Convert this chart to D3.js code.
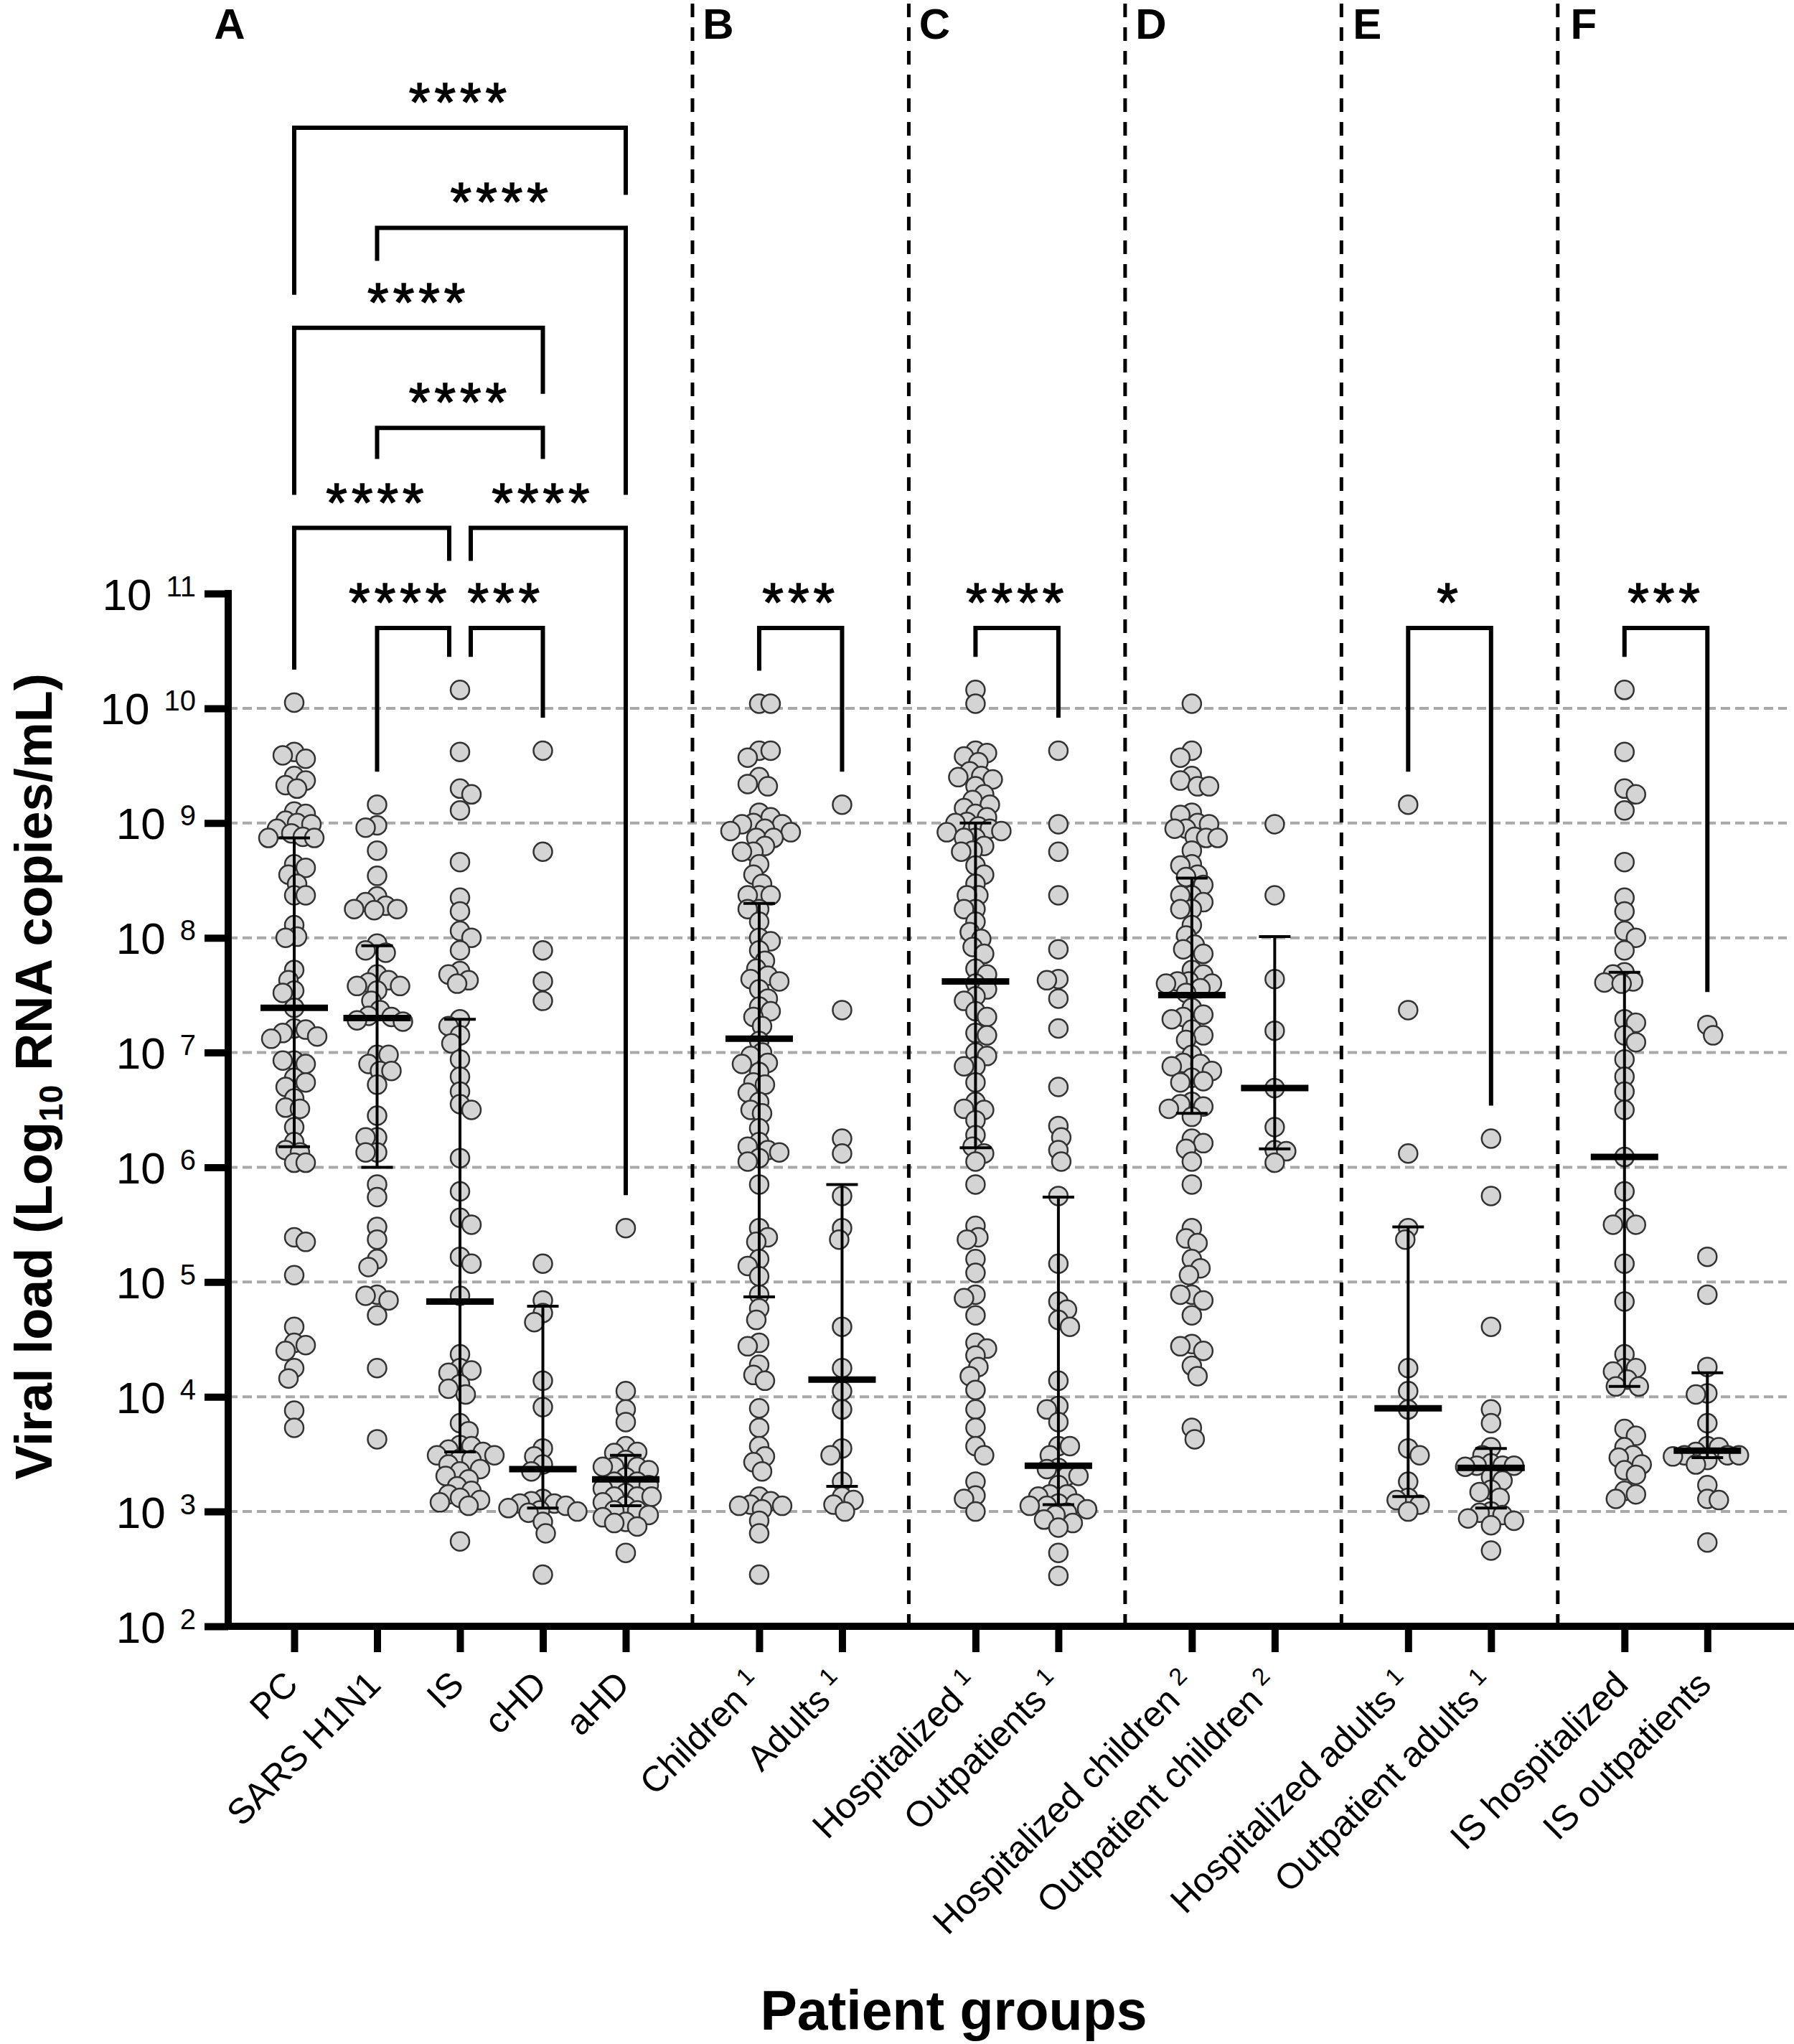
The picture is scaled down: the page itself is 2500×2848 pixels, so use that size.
<!DOCTYPE html>
<html lang="en">
<head>
<meta charset="UTF-8">
<title>Viral load by patient group</title>
<script src="https://d3js.org/d3.v7.min.js"></script>
<style>
  body { margin: 0; background: #fff; }
  text { font-family: "Liberation Sans", Arial, sans-serif; fill: #000; }
</style>
</head>
<body>
<svg id="chart" width="2500" height="2848"></svg>
<script>
// categories and the panel each one belongs to
const categories = ["PC", "SARS H1N1", "IS", "cHD", "aHD", "Children", "Adults", "Hospitalized", "Outpatients",
  "Hospitalized children", "Outpatient children", "Hospitalized adults", "Outpatient adults", "IS hospitalized", "IS outpatients"];
const superscripts = ["", "", "", "", "", "1", "1", "1", "1", "2", "2", "1", "1", "", ""];
const panels = ["A", "A", "A", "A", "A", "B", "B", "C", "C", "D", "D", "E", "E", "F", "F"];

// viral loads, log10 RNA copies/mL, one array per group
const pc = [10.05, 9.62, 9.59, 9.56, 9.41, 9.37, 9.33, 9.30, 9.10, 9.08, 9.02, 9.00, 8.99, 8.95, 8.91, 8.88, 8.87, 8.87,
  8.64, 8.61, 8.55, 8.47, 8.37, 8.37, 8.11, 8.00, 8.01, 7.72, 7.63, 7.54, 7.52, 7.39, 7.20, 7.21, 7.14, 7.12, 7.17,
  6.93, 6.93, 6.90, 6.74, 6.78, 6.70, 6.60, 6.51, 6.52, 6.35, 6.15, 6.13, 6.22, 6.04, 6.04, 5.35, 5.39, 5.06, 4.61,
  4.47, 4.40, 4.45, 4.25, 4.16, 3.88, 3.73];
const sars = [9.16, 8.98, 8.96, 8.76, 8.54, 8.36, 8.31, 8.28, 8.25, 8.25, 8.24, 7.95, 7.89, 7.87, 7.68, 7.63, 7.61, 7.58,
  7.58, 7.54, 7.45, 7.37, 7.32, 7.31, 7.28, 7.27, 6.98, 6.98, 6.90, 6.84, 6.84, 6.72, 6.45, 6.26, 6.26, 6.13, 6.13,
  5.85, 5.74, 5.48, 5.37, 5.20, 5.13, 4.89, 4.88, 4.84, 4.71, 4.25, 3.63];
const is = [10.16, 9.62, 9.30, 9.25, 9.11, 8.66, 8.35, 8.23, 8.06, 8.00, 7.89, 7.71, 7.68, 7.63, 7.60, 7.29, 7.23, 7.15,
  7.08, 6.94, 6.79, 6.66, 6.55, 6.50, 6.08, 5.79, 5.56, 5.50, 5.22, 5.16, 4.88, 4.37, 4.25, 4.23, 4.21, 4.11, 4.07,
  4.02, 3.77, 3.70, 3.58, 3.57, 3.54, 3.52, 3.49, 3.49, 3.46, 3.45, 3.41, 3.37, 3.35, 3.31, 3.28, 3.22, 3.18, 3.15,
  3.12, 3.10, 3.08, 3.05, 2.74];
const chd = [9.63, 8.75, 7.89, 7.62, 7.45, 5.16, 4.84, 4.73, 4.65, 4.14, 3.91, 3.55, 3.48, 3.41, 3.35, 3.11, 3.09, 3.07,
  3.07, 3.05, 3.03, 3.01, 3.00, 2.99, 2.91, 2.81, 2.45];
const ahd = [5.47, 4.05, 3.89, 3.78, 3.57, 3.52, 3.51, 3.45, 3.39, 3.39, 3.39, 3.36, 3.30, 3.26, 3.26, 3.23, 3.20, 3.16,
  3.13, 3.13, 3.13, 3.08, 3.05, 3.01, 3.01, 2.97, 2.95, 2.91, 2.90, 2.87, 2.64];
const children = [10.04, 10.04, 9.63, 9.63, 9.57, 9.40, 9.34, 9.32, 9.09, 9.05, 9.00, 8.99, 8.99, 8.95, 8.93, 8.92,
  8.87, 8.87, 8.80, 8.75, 8.75, 8.64, 8.55, 8.47, 8.37, 8.37, 8.37, 8.25, 8.25, 8.14, 8.00, 7.97, 7.89, 7.80, 7.73,
  7.67, 7.64, 7.62, 7.55, 7.47, 7.40, 7.36, 7.31, 7.23, 7.10, 7.00, 6.97, 6.91, 6.90, 6.83, 6.74, 6.72, 6.65, 6.57,
  6.50, 6.47, 6.34, 6.22, 6.18, 6.15, 6.13, 6.08, 6.05, 5.85, 5.47, 5.39, 5.35, 5.20, 5.14, 5.05, 4.89, 4.77, 4.67,
  4.47, 4.44, 4.28, 4.19, 4.14, 3.90, 3.73, 3.57, 3.48, 3.43, 3.35, 3.13, 3.09, 3.06, 3.05, 3.05, 3.02, 2.92, 2.81, 2.45];
const adults = [9.16, 7.37, 6.25, 6.12, 5.75, 5.47, 5.37, 4.61, 4.25, 4.05, 3.89, 3.55, 3.49, 3.26, 3.13, 3.10, 3.06, 3.00];
const hospitalized = [10.16, 10.04, 9.63, 9.61, 9.58, 9.53, 9.45, 9.41, 9.40, 9.38, 9.32, 9.25, 9.20, 9.16, 9.13, 9.08,
  9.05, 9.01, 9.00, 8.97, 8.95, 8.93, 8.92, 8.87, 8.87, 8.80, 8.76, 8.75, 8.63, 8.55, 8.47, 8.37, 8.37, 8.25, 8.25,
  8.14, 8.05, 7.99, 7.92, 7.86, 7.73, 7.68, 7.60, 7.55, 7.49, 7.45, 7.36, 7.31, 7.17, 7.15, 7.00, 6.97, 6.88, 6.88,
  6.74, 6.57, 6.51, 6.50, 6.41, 6.28, 6.18, 6.12, 6.05, 5.85, 5.49, 5.39, 5.37, 5.20, 5.08, 4.89, 4.86, 4.71, 4.47,
  4.42, 4.36, 4.26, 4.18, 4.06, 3.89, 3.73, 3.57, 3.49, 3.26, 3.14, 3.11, 3.00];
const outpatients = [9.63, 8.99, 8.75, 8.37, 7.90, 7.64, 7.63, 7.47, 7.21, 6.70, 6.36, 6.26, 6.15, 6.05, 5.75, 5.16,
  4.83, 4.76, 4.67, 4.61, 4.14, 3.92, 3.89, 3.78, 3.57, 3.57, 3.49, 3.38, 3.37, 3.31, 3.31, 3.23, 3.15, 3.15, 3.13,
  3.07, 3.07, 3.05, 3.05, 3.02, 2.99, 2.97, 2.93, 2.90, 2.86, 2.64, 2.44];
const hospChildren = [10.04, 9.63, 9.57, 9.41, 9.37, 9.32, 9.32, 9.09, 9.07, 9.00, 8.99, 8.95, 8.95, 8.88, 8.87, 8.87,
  8.76, 8.64, 8.63, 8.55, 8.53, 8.46, 8.37, 8.37, 8.31, 8.25, 8.25, 8.11, 8.02, 7.94, 7.90, 7.86, 7.72, 7.68, 7.62,
  7.62, 7.60, 7.60, 7.56, 7.52, 7.39, 7.33, 7.31, 7.29, 7.20, 7.15, 7.11, 6.98, 6.91, 6.90, 6.88, 6.84, 6.78, 6.75,
  6.74, 6.57, 6.55, 6.53, 6.51, 6.44, 6.25, 6.21, 6.16, 6.05, 5.85, 5.47, 5.38, 5.34, 5.20, 5.12, 5.06, 4.89, 4.89,
  4.84, 4.71, 4.46, 4.44, 4.40, 4.27, 4.18, 3.73, 3.63];
const outChildren = [8.99, 8.37, 7.64, 7.19, 6.69, 6.35, 6.15, 6.14, 6.04];
const hospAdults = [9.16, 7.37, 6.12, 5.47, 5.37, 4.25, 4.05, 3.89, 3.55, 3.49, 3.26, 3.12, 3.10, 3.06, 3.00];
const outAdults = [6.25, 5.75, 4.61, 3.89, 3.77, 3.56, 3.49, 3.42, 3.40, 3.40, 3.40, 3.39, 3.30, 3.27, 3.19, 3.17,
  3.12, 3.00, 2.99, 2.97, 2.94, 2.92, 2.88, 2.66];
const isHosp = [10.16, 9.62, 9.30, 9.25, 9.11, 8.66, 8.35, 8.23, 8.06, 8.00, 7.89, 7.70, 7.68, 7.62, 7.61, 7.60, 7.29,
  7.26, 7.15, 7.09, 6.94, 6.79, 6.66, 6.50, 6.09, 5.79, 5.56, 5.50, 5.50, 5.16, 4.83, 4.37, 4.25, 4.25, 4.22, 4.15,
  4.09, 4.09, 3.72, 3.66, 3.56, 3.49, 3.47, 3.41, 3.36, 3.32, 3.18, 3.15, 3.11];
const isOut = [7.24, 7.15, 5.22, 4.89, 4.26, 4.03, 4.02, 3.77, 3.57, 3.56, 3.52, 3.49, 3.49, 3.49, 3.48, 3.45, 3.41,
  3.23, 3.11, 3.10, 2.73];
const groups = [pc, sars, is, chd, ahd, children, adults, hospitalized, outpatients,
  hospChildren, outChildren, hospAdults, outAdults, isHosp, isOut];

// median and interquartile range (log10), as drawn
const medians = [7.39, 7.30, 4.83, 3.37, 3.28, 7.12, 4.15, 7.62, 3.40, 7.50, 6.69, 3.90, 3.38, 6.09, 3.53];
const q1 = [6.18, 6.00, 3.52, 3.03, 3.05, 4.87, 3.22, 6.17, 3.06, 6.47, 6.16, 3.13, 3.03, 4.09, 3.47];
const q3 = [8.87, 7.93, 7.29, 4.79, 3.49, 8.30, 5.85, 9.00, 5.74, 8.52, 8.01, 5.48, 3.55, 7.70, 4.21];

// significance brackets: category indices, stacking level, label, where each leg stops
// (leg ends are in bracket-level units; null means "stop just above the column's data")
const bracketFrom = [0, 1, 0, 1, 0, 2, 1, 2, 5, 7, 11, 13];
const bracketTo = [4, 4, 3, 3, 2, 4, 2, 3, 6, 8, 12, 14];
const bracketLevel = [5, 4, 3, 2, 1, 1, 0, 0, 0, 0, 0, 0];
const bracketLabel = ["****", "****", "****", "****", "****", "****", "****", "***", "***", "****", "*", "***"];
const labelShift = [0, 0, 0, 0, 0, 0, -26, 6, 0, 0, 0, 0];
const legLeftEnd = [3.33, 3.67, 1.33, 1.69, null, 0.67, null, null, null, null, null, null];
const legRightEnd = [4.33, 1.33, 2.34, 1.69, 0.67, null, null, null, null, null, null, null];

const yTicks = [1e2, 1e3, 1e4, 1e5, 1e6, 1e7, 1e8, 1e9, 1e10, 1e11];
const gridValues = [1e3, 1e4, 1e5, 1e6, 1e7, 1e8, 1e9, 1e10];

const svg = d3.select("#chart");
const axisX = 318, axisY = 2266, rightEdge = 2500;

// slot position: one unit per column, plus a wider gap between panels
const panelIndex = panels.map(p => "ABCDEF".indexOf(p));
const slots = categories.map((c, i) => i + panelIndex[i] * 0.61);
const x = d3.scaleLinear().domain([0, d3.max(slots)]).range([410, 410 + d3.max(slots) * 115.5]);
const y = d3.scaleLog().domain([1e2, 1e11]).range([axisY, 827]);
const level = d3.scaleLinear().domain([0, 5]).range([875, 178]);

// horizontal dashed gridlines
svg.append("g").selectAll("line").data(gridValues).join("line")
  .attr("x1", axisX).attr("x2", 2490)
  .attr("y1", d => y(d)).attr("y2", d => y(d))
  .attr("stroke", "#a9a9a9").attr("stroke-width", 4).attr("stroke-dasharray", "13 7");

// panel separators
const sepSlots = [];
for (let i = 1; i < categories.length; i++) {
  if (panels[i] !== panels[i - 1]) sepSlots.push({ s: (slots[i] + slots[i - 1]) / 2, p: panels[i] });
}
svg.append("g").selectAll("line").data(sepSlots).join("line")
  .attr("x1", d => x(d.s)).attr("x2", d => x(d.s))
  .attr("y1", 5).attr("y2", axisY)
  .attr("stroke", "#000").attr("stroke-width", 5).attr("stroke-dasharray", "19 14");

// beeswarm placement so points don't pile up
function swarm(vals, cx) {
  const minD = 16, step = 4;
  const pts = vals.map(v => ({ v: v, y: y(Math.pow(10, v)) })).sort((a, b) => a.y - b.y);
  const placed = [];
  pts.forEach((p, n) => {
    let off = 0;
    for (let k = 0; k < 80; k++) {
      const cand = k === 0 ? [0] : (n % 2 ? [k * step, -k * step] : [-k * step, k * step]);
      const ok = cand.find(o => placed.every(q => Math.hypot(q.off - o, q.y - p.y) >= minD));
      if (ok !== undefined) { off = ok; break; }
    }
    p.off = off;
    placed.push(p);
  });
  pts.forEach(p => p.x = cx + p.off);
  return pts;
}

const dots = svg.append("g");
groups.forEach((vals, i) => {
  dots.append("g").selectAll("circle").data(swarm(vals, x(slots[i]))).join("circle")
    .attr("cx", d => d.x).attr("cy", d => d.y).attr("r", 13)
    .attr("fill", "#d4d4d4").attr("stroke", "#333").attr("stroke-width", 2.5);
});

// median + IQR
const stats = svg.append("g");
categories.forEach((c, i) => {
  const cx = x(slots[i]);
  const g = stats.append("g").attr("stroke", "#000");
  g.append("line").attr("x1", cx).attr("x2", cx)
    .attr("y1", y(Math.pow(10, q1[i]))).attr("y2", y(Math.pow(10, q3[i]))).attr("stroke-width", 4);
  [q1[i], q3[i]].forEach(q => {
    g.append("line").attr("x1", cx - 22).attr("x2", cx + 22)
      .attr("y1", y(Math.pow(10, q))).attr("y2", y(Math.pow(10, q))).attr("stroke-width", 4);
  });
  g.append("line").attr("x1", cx - 47).attr("x2", cx + 47)
    .attr("y1", y(Math.pow(10, medians[i]))).attr("y2", y(Math.pow(10, medians[i]))).attr("stroke-width", 9);
});

// y axis
const yAxis = svg.append("g").attr("transform", `translate(${axisX},0)`)
  .call(d3.axisLeft(y).tickValues(yTicks).tickSize(33).tickSizeOuter(0).tickFormat(""));
yAxis.select(".domain").remove();
yAxis.selectAll(".tick line").attr("stroke", "#000").attr("stroke-width", 10);
yAxis.selectAll(".tick").each(function (d) {
  const t = d3.select(this).append("text")
    .attr("x", -45).attr("y", 22).attr("text-anchor", "end")
    .attr("font-size", 62).attr("fill", "#000");
  t.append("tspan").text("10");
  t.append("tspan").attr("dx", 20).attr("dy", -19).attr("font-size", 40).text(Math.round(Math.log10(d)));
});
svg.append("line").attr("x1", axisX).attr("x2", axisX).attr("y1", 822).attr("y2", axisY + 5)
  .attr("stroke", "#000").attr("stroke-width", 10);

// x axis
const xAxis = svg.append("g").attr("transform", `translate(0,${axisY})`)
  .call(d3.axisBottom(x).tickValues(slots).tickSize(36).tickSizeOuter(0).tickFormat(""));
xAxis.select(".domain").remove();
xAxis.selectAll(".tick line").attr("stroke", "#000").attr("stroke-width", 10);
svg.append("line").attr("x1", axisX - 5).attr("x2", rightEdge).attr("y1", axisY).attr("y2", axisY)
  .attr("stroke", "#000").attr("stroke-width", 10);

categories.forEach((c, i) => {
  const t = svg.append("text")
    .attr("transform", `translate(${x(slots[i]) + 8},2350) rotate(-45)`)
    .attr("text-anchor", "end").attr("font-size", 50);
  t.append("tspan").text(c);
  if (superscripts[i]) {
    t.append("tspan").attr("dx", 12).attr("dy", -18).attr("font-size", 34).text(superscripts[i]);
  }
});

// brackets
bracketFrom.forEach((f, i) => {
  const to = bracketTo[i], lv = bracketLevel[i];
  const shareL = bracketTo.some((t2, j) => j !== i && bracketLevel[j] === lv && t2 === f);
  const shareR = bracketFrom.some((f2, j) => j !== i && bracketLevel[j] === lv && f2 === to);
  const x0 = x(slots[f]) + (shareL ? 15 : 0), x1 = x(slots[to]) - (shareR ? 15 : 0);
  const top = level(lv);
  const endL = legLeftEnd[i] !== null ? level(legLeftEnd[i]) : y(Math.pow(10, d3.max(groups[f]))) - 46;
  const endR = legRightEnd[i] !== null ? level(legRightEnd[i]) : y(Math.pow(10, d3.max(groups[to]))) - 46;
  svg.append("path")
    .attr("d", `M${x0},${endL}V${top}H${x1}V${endR}`)
    .attr("fill", "none").attr("stroke", "#000").attr("stroke-width", 6);
  svg.append("text")
    .attr("x", (x(slots[f]) + x(slots[to])) / 2 + labelShift[i]).attr("y", top - 10)
    .attr("text-anchor", "middle").attr("font-size", 76).attr("letter-spacing", 6)
    .attr("stroke", "#000").attr("stroke-width", 1.5)
    .text(bracketLabel[i]);
});

// panel letters
const letters = [{ p: "A", x: axisX + 2 }].concat(sepSlots.map(d => ({ p: d.p, x: x(d.s) + 36 })));
svg.append("g").selectAll("text").data(letters).join("text")
  .attr("x", d => d.x).attr("y", 54).attr("text-anchor", "middle")
  .attr("font-size", 60).attr("font-weight", "bold").text(d => d.p);

// axis titles
const yTitle = svg.append("text")
  .attr("transform", "translate(72,1500) rotate(-90)")
  .attr("text-anchor", "middle").attr("font-size", 72).attr("font-weight", "bold");
yTitle.append("tspan").text("Viral load (Log");
yTitle.append("tspan").attr("dy", 15).attr("font-size", 46).text("10");
yTitle.append("tspan").attr("dy", -15).text(" RNA copies/mL)");

svg.append("text").attr("x", 1329).attr("y", 2828).attr("text-anchor", "middle")
  .attr("font-size", 77).attr("font-weight", "bold").text("Patient groups");
</script>
</body>
</html>
